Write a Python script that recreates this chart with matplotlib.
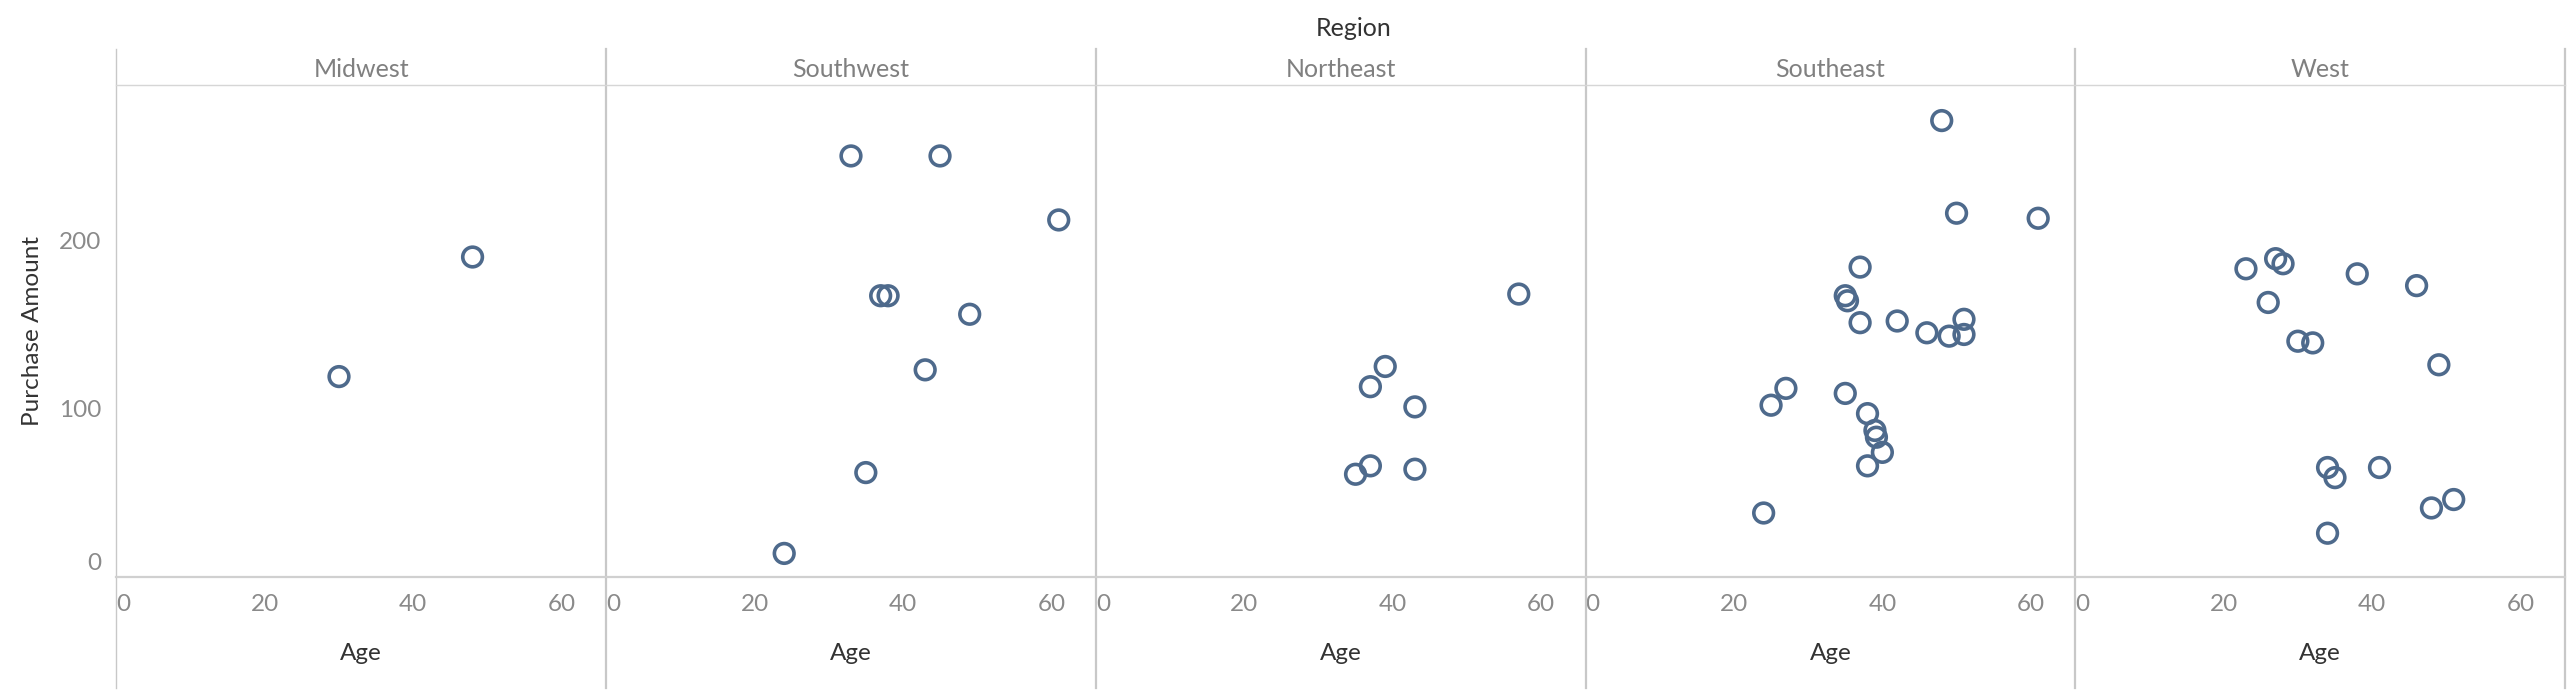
import matplotlib
matplotlib.use("Agg")
import matplotlib.pyplot as plt
from matplotlib.lines import Line2D
from matplotlib.transforms import ScaledTranslation

# data, one pair of lists per region
regions = ["Midwest", "Southwest", "Northeast", "Southeast", "West"]

midwest_age = [30, 48]
midwest_amt = [119, 190]

southwest_age = [33, 45, 61, 37, 38, 49, 43, 35, 24]
southwest_amt = [250, 250, 212, 167, 167, 156, 123, 62, 14]

northeast_age = [57, 39, 37, 43, 37, 43, 35]
northeast_amt = [168, 125, 113, 101, 66, 64, 61]

southeast_age = [48, 50, 61, 37, 35, 35.3, 37, 42, 46, 49, 51, 51,
                 27, 25, 35, 38, 39, 39.2, 40, 38, 24]
southeast_amt = [271, 216, 213, 184, 167, 164, 151, 152, 145, 143, 153, 144,
                 112, 102, 109, 97, 87, 83, 74, 66, 38]

west_age = [23, 27, 28, 38, 46, 26, 30, 32, 49, 34, 35, 41, 51, 48, 34]
west_amt = [183, 189, 186, 180, 173, 163, 140, 139, 126, 65, 59, 65, 46, 41, 26]

ages = [midwest_age, southwest_age, northeast_age, southeast_age, west_age]
amounts = [midwest_amt, southwest_amt, northeast_amt, southeast_amt, west_amt]

x_ticks = [0, 20, 40, 60]
y_ticks = [0, 100, 200]

plt.rcParams['font.family'] = ['Lato', 'DejaVu Sans']

W, H = 2570, 697
fig, axes = plt.subplots(1, 5, figsize=(W / 100, H / 100), dpi=100, sharey=True)
fig.patch.set_facecolor("white")
fig.subplots_adjust(left=116.4 / W, right=2565 / W, bottom=1 - 577 / H,
                    top=1 - 85.2 / H, wspace=0)

mark_col = "#4e6a8c"
grid_col = "#c8c8c8"
tick_col = "#8a8a8a"

for i, ax in enumerate(axes):
    ax.scatter(ages[i], amounts[i], s=200, facecolors="none",
               edgecolors=mark_col, linewidths=2.6, zorder=3)
    ax.set_xlim(0, 66)
    ax.set_ylim(0, 292)
    ax.set_xticks(x_ticks)
    ax.set_yticks(y_ticks)
    for s in ax.spines.values():
        s.set_visible(False)
    ax.tick_params(length=0, labelsize=17.5, labelcolor=tick_col, pad=12)
    ax.tick_params(axis="y", pad=11)
    ax.get_xticklabels()[0].set_ha("left")
    ax.set_xlabel("Age", fontsize=17.5, color="#333333")
    ax.xaxis.set_label_coords(0.5, -0.135)
    ax.annotate(regions[i], xy=(0.5, 1), xycoords="axes fraction",
                xytext=(0, 11), textcoords="offset points",
                ha="center", va="center", fontsize=18, color="#808080")
    ax.set_facecolor("white")

axes[0].set_ylabel("Purchase Amount", fontsize=17.5, color="#333333")
axes[0].yaxis.set_label_coords(-0.15, 0.5)
# tableau keeps the 0 label inside the pane
lab0 = axes[0].get_yticklabels()[0]
lab0.set_transform(lab0.get_transform() + ScaledTranslation(0, 15 / 100, fig.dpi_scale_trans))

# panel dividers, header line and baseline
x_edges = [ax.get_position().x0 for ax in axes] + [axes[-1].get_position().x1]
y_top = 1 - 49 / H
y_bot = 1 - 688 / H
for k, xe in enumerate(x_edges):
    fig.add_artist(Line2D([xe, xe], [y_bot, y_top], transform=fig.transFigure,
                          color=grid_col, lw=1.0 if k == 0 else 1.6))
y_head = axes[0].get_position().y1
y_base = axes[0].get_position().y0
fig.add_artist(Line2D([x_edges[0], x_edges[-1]], [y_head, y_head],
                      transform=fig.transFigure, color="#d6d6d6", lw=1.0))
fig.add_artist(Line2D([x_edges[0], x_edges[-1]], [y_base, y_base],
                      transform=fig.transFigure, color="#d0d0d0", lw=1.6))

fig.text((x_edges[0] + x_edges[-1]) / 2 + 0.005, 1 - 28 / H, "Region",
         ha="center", va="center", fontsize=18, color="#333333")

fig.savefig("out.png", dpi=100, facecolor="white")
